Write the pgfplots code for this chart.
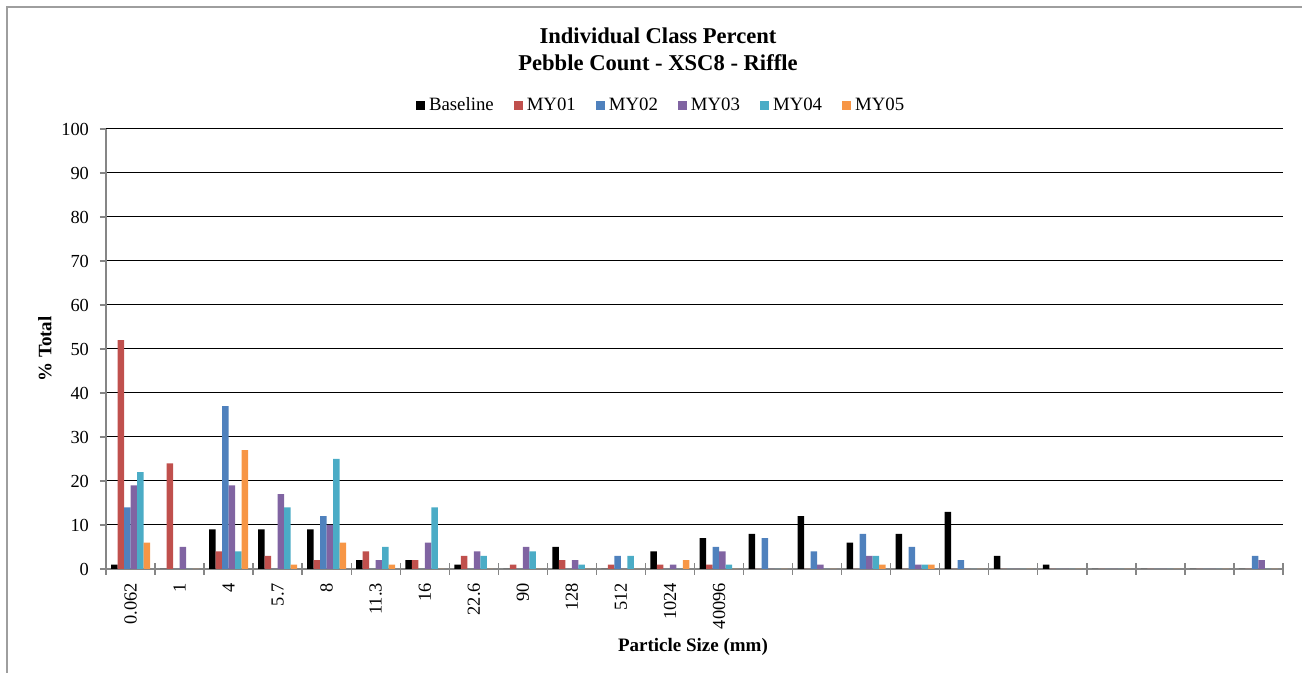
\documentclass[border=0pt]{standalone}
\usepackage{pgfplots}
\pgfplotsset{compat=1.18}
\usepackage{fontspec}
\setmainfont{Liberation Serif}
\definecolor{cB}{HTML}{000000}
\definecolor{c1}{HTML}{C0504D}
\definecolor{c2}{HTML}{4F81BD}
\definecolor{c3}{HTML}{8064A2}
\definecolor{c4}{HTML}{4BACC6}
\definecolor{c5}{HTML}{F79646}
\definecolor{axgray}{HTML}{868686}
\begin{document}
\begin{tikzpicture}[x=1pt,y=1pt]
\path[use as bounding box] (0,0) rectangle (651,336.5);
\draw[axgray!80, line width=0.7pt] (3.5,0) -- (3.5,333) -- (651,333);
\begin{axis}[
  at={(53pt,52pt)}, anchor=south west,
  width=588.5pt, height=220pt, scale only axis,
  ybar=0pt, bar width=3.25pt,
  xmin=0.5, xmax=24.5, ymin=0, ymax=100,
  ytick={0,10,...,100},
  xtick={1,...,24},
  xticklabels={0.062,1,4,5.7,8,11.3,16,22.6,90,128,512,1024,40096,,,,,,,,,,,},
  minor xtick={0.5,1.5,...,24.5},
  xtick style={draw=none},
  minor x tick style={draw=axgray, line width=0.7pt},
  minor tick length=6pt,
  xtick align=center,
  ytick align=outside,
  major tick length=3pt,
  y tick style={draw=axgray, line width=0.7pt},
  axis x line*=bottom, axis y line*=left,
  axis line style={draw=axgray, line width=0.9pt, -},
  ymajorgrids, grid style={black, line width=0.5pt},
  tick label style={font=\fontsize{9.2}{10}\selectfont},
  /pgf/number format/assume math mode=true,
  xticklabel style={rotate=90, anchor=east, xshift=-2pt},
  yticklabel style={xshift=-2pt},
  title={Individual Class Percent\\Pebble Count - XSC8 - Riffle},
  title style={align=center, font=\bfseries\fontsize{11.3}{13.5}\selectfont, at={(axis description cs:0.469,1.1535)}, anchor=center},
  xlabel={Particle Size (mm)},
  xlabel style={font=\bfseries\fontsize{9.5}{11}\selectfont, at={(axis description cs:0.4987,-0.178)}, anchor=center},
  ylabel={\% Total},
  ylabel style={font=\bfseries\fontsize{9.5}{11}\selectfont, at={(axis description cs:-0.0518,0.5)}, anchor=center},
  legend columns=-1,
  legend style={at={(axis description cs:0.4725,1.053)}, anchor=center, draw=none, fill=none,
    font=\fontsize{9.4}{10}\selectfont,
    /tikz/every even column/.append style={column sep=8pt},
    inner sep=0pt},
  legend image code/.code={\fill[#1] (0pt,-2.25pt) rectangle (4.5pt,2.25pt);},
]
\addplot[fill=cB, draw=none] coordinates {(1,1)(2,0)(3,9)(4,9)(5,9)(6,2)(7,2)(8,1)(9,0)(10,5)(11,0)(12,4)(13,7)(14,8)(15,12)(16,6)(17,8)(18,13)(19,3)(20,1)(21,0)(22,0)(23,0)(24,0)};
\addplot[fill=c1, draw=none] coordinates {(1,52)(2,24)(3,4)(4,3)(5,2)(6,4)(7,2)(8,3)(9,1)(10,2)(11,1)(12,1)(13,1)(14,0)(15,0)(16,0)(17,0)(18,0)(19,0)(20,0)(21,0)(22,0)(23,0)(24,0)};
\addplot[fill=c2, draw=none] coordinates {(1,14)(2,0)(3,37)(4,0)(5,12)(6,0)(7,0)(8,0)(9,0)(10,0)(11,3)(12,0)(13,5)(14,7)(15,4)(16,8)(17,5)(18,2)(19,0)(20,0)(21,0)(22,0)(23,0)(24,3)};
\addplot[fill=c3, draw=none] coordinates {(1,19)(2,5)(3,19)(4,17)(5,10)(6,2)(7,6)(8,4)(9,5)(10,2)(11,0)(12,1)(13,4)(14,0)(15,1)(16,3)(17,1)(18,0)(19,0)(20,0)(21,0)(22,0)(23,0)(24,2)};
\addplot[fill=c4, draw=none] coordinates {(1,22)(2,0)(3,4)(4,14)(5,25)(6,5)(7,14)(8,3)(9,4)(10,1)(11,3)(12,0)(13,1)(14,0)(15,0)(16,3)(17,1)(18,0)(19,0)(20,0)(21,0)(22,0)(23,0)(24,0)};
\addplot[fill=c5, draw=none] coordinates {(1,6)(2,0)(3,27)(4,1)(5,6)(6,1)(7,0)(8,0)(9,0)(10,0)(11,0)(12,2)(13,0)(14,0)(15,0)(16,1)(17,1)(18,0)(19,0)(20,0)(21,0)(22,0)(23,0)(24,0)};
\legend{Baseline,MY01,MY02,MY03,MY04,MY05}
\end{axis}
\end{tikzpicture}
\end{document}
